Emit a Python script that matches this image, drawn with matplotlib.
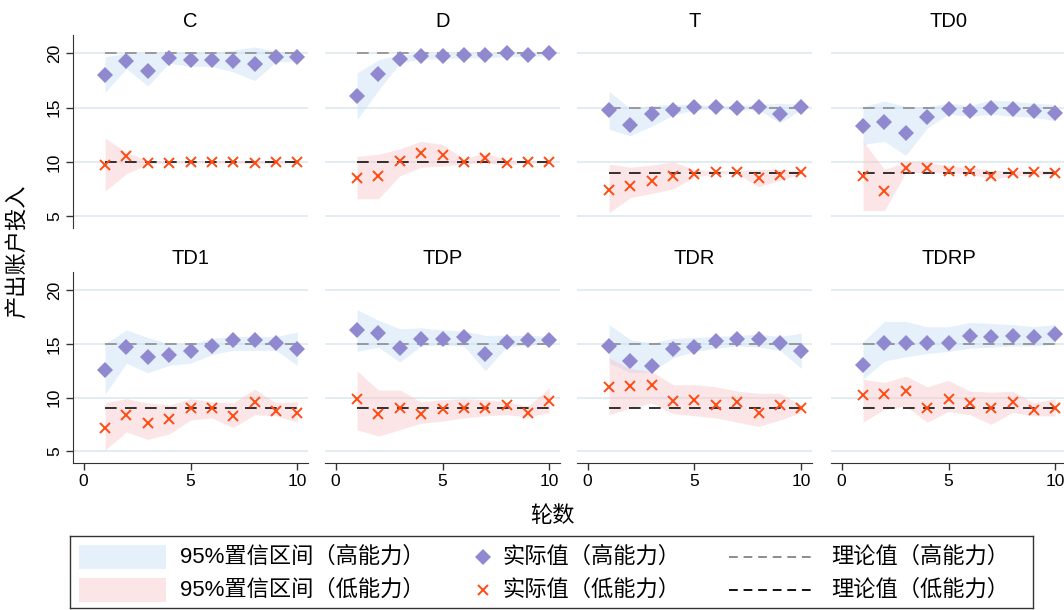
import numpy as np
import matplotlib
matplotlib.use("Agg")
import matplotlib.pyplot as plt
from matplotlib.patches import Rectangle

plt.rcParams['font.family'] = ['Liberation Sans', 'Noto Sans CJK SC']

rounds = np.arange(1, 11)
treatments = ['C', 'D', 'T', 'TD0', 'TD1', 'TDP', 'TDR', 'TDRP']

# theoretical values (high / low ability)
theory_hi = [20, 20, 15, 15, 15, 15, 15, 15]
theory_lo = [10, 10, 9, 9, 9, 9, 9, 9]

# actual means, high ability
hi_mean = {
    'C':    [18.0, 19.3, 18.4, 19.6, 19.4, 19.4, 19.3, 19.0, 19.7, 19.7],
    'D':    [16.1, 18.1, 19.5, 19.8, 19.8, 19.9, 19.9, 20.0, 19.9, 20.0],
    'T':    [14.8, 13.4, 14.4, 14.8, 15.1, 15.1, 15.0, 15.1, 14.4, 15.1],
    'TD0':  [13.3, 13.7, 12.7, 14.1, 14.9, 14.7, 15.0, 14.9, 14.7, 14.5],
    'TD1':  [12.6, 14.7, 13.8, 14.0, 14.3, 14.8, 15.4, 15.4, 15.1, 14.5],
    'TDP':  [16.3, 16.0, 14.6, 15.5, 15.5, 15.6, 14.1, 15.2, 15.4, 15.4],
    'TDR':  [14.8, 13.4, 12.9, 14.5, 14.7, 15.3, 15.5, 15.5, 15.1, 14.3],
    'TDRP': [13.0, 15.1, 15.1, 15.1, 15.1, 15.7, 15.6, 15.7, 15.6, 15.9],
}
hi_upper = {
    'C':    [19.7, 20.0, 20.0, 20.1, 20.1, 20.1, 20.3, 20.6, 20.2, 20.1],
    'D':    [18.2, 19.4, 19.9, 20.0, 20.0, 20.0, 20.0, 20.0, 20.0, 20.0],
    'T':    [16.5, 14.9, 15.2, 15.3, 15.3, 15.2, 15.2, 15.3, 15.4, 15.3],
    'TD0':  [15.1, 15.6, 15.1, 15.1, 15.4, 15.2, 15.7, 15.6, 15.4, 15.3],
    'TD1':  [15.0, 16.3, 15.6, 15.0, 15.0, 15.5, 15.7, 15.7, 15.7, 16.1],
    'TDP':  [18.2, 17.2, 16.4, 16.5, 16.3, 16.2, 15.8, 15.8, 15.8, 15.7],
    'TDR':  [16.8, 15.4, 15.1, 15.5, 15.6, 15.7, 15.8, 15.9, 15.7, 16.0],
    'TDRP': [15.2, 17.1, 17.1, 16.6, 16.6, 17.0, 16.9, 16.8, 16.6, 16.8],
}
hi_lower = {
    'C':    [16.4, 18.6, 17.0, 19.1, 18.8, 18.8, 18.3, 17.5, 19.2, 19.3],
    'D':    [13.9, 16.6, 19.1, 19.5, 19.5, 19.6, 19.6, 19.7, 19.7, 19.8],
    'T':    [13.0, 12.4, 13.3, 14.3, 14.8, 14.9, 14.8, 14.8, 13.6, 14.8],
    'TD0':  [11.6, 11.9, 10.6, 13.1, 14.4, 14.2, 14.4, 14.2, 14.1, 13.8],
    'TD1':  [10.3, 13.2, 12.3, 13.0, 13.2, 14.0, 14.4, 14.4, 14.4, 13.0],
    'TDP':  [14.3, 14.7, 13.3, 14.8, 14.9, 14.8, 12.5, 14.7, 14.9, 15.0],
    'TDR':  [13.2, 12.3, 12.4, 13.7, 14.3, 14.6, 14.8, 14.7, 14.4, 12.7],
    'TDRP': [11.7, 13.4, 13.8, 14.1, 14.3, 14.6, 14.7, 14.8, 14.8, 15.0],
}

# actual means, low ability
lo_mean = {
    'C':    [9.7, 10.5, 9.9, 9.9, 10.0, 10.0, 10.0, 9.9, 10.0, 10.0],
    'D':    [8.5, 8.7, 10.1, 10.8, 10.6, 10.0, 10.4, 9.9, 10.0, 10.0],
    'T':    [7.4, 7.8, 8.2, 8.7, 8.9, 9.1, 9.1, 8.5, 8.8, 9.1],
    'TD0':  [8.7, 7.3, 9.4, 9.4, 9.2, 9.2, 8.7, 9.0, 9.1, 9.0],
    'TD1':  [7.2, 8.4, 7.6, 8.0, 9.0, 9.0, 8.3, 9.6, 8.7, 8.6],
    'TDP':  [9.9, 8.5, 9.0, 8.5, 8.9, 9.0, 9.0, 9.3, 8.6, 9.7],
    'TDR':  [11.0, 11.1, 11.2, 9.7, 9.8, 9.3, 9.6, 8.6, 9.3, 9.0],
    'TDRP': [10.2, 10.3, 10.6, 9.0, 9.9, 9.5, 9.0, 9.6, 8.8, 9.0],
}
lo_upper = {
    'C':    [12.2, 10.9, 10.1, 10.1, 10.1, 10.1, 10.1, 10.1, 10.1, 10.1],
    'D':    [10.5, 10.7, 11.2, 11.9, 11.6, 10.3, 10.8, 10.2, 10.1, 10.1],
    'T':    [9.8, 9.5, 9.7, 10.0, 9.3, 9.2, 9.2, 9.3, 9.3, 9.2],
    'TD0':  [11.9, 9.3, 10.0, 10.0, 9.6, 9.5, 9.2, 9.2, 9.2, 9.2],
    'TD1':  [9.5, 9.9, 9.5, 9.3, 9.9, 9.6, 9.5, 10.8, 9.5, 9.6],
    'TDP':  [12.5, 10.7, 10.7, 9.6, 9.8, 9.9, 9.8, 9.6, 9.2, 10.9],
    'TDR':  [13.7, 12.7, 12.4, 11.2, 11.2, 11.0, 10.6, 10.4, 10.4, 9.3],
    'TDRP': [11.7, 11.4, 12.0, 11.0, 11.6, 10.6, 10.5, 10.6, 9.5, 9.9],
}
lo_lower = {
    'C':    [7.3, 8.9, 9.8, 9.9, 9.9, 9.9, 9.9, 9.8, 9.9, 9.9],
    'D':    [6.6, 6.6, 8.7, 9.5, 9.6, 9.8, 9.9, 9.7, 9.9, 9.9],
    'T':    [5.3, 6.7, 7.1, 7.5, 8.6, 8.9, 8.9, 7.7, 8.3, 8.9],
    'TD0':  [5.5, 5.5, 9.0, 9.0, 9.0, 8.9, 8.4, 8.7, 8.8, 8.8],
    'TD1':  [5.1, 6.8, 6.1, 6.6, 7.9, 8.1, 7.2, 8.4, 8.3, 7.7],
    'TDP':  [7.0, 6.4, 7.0, 7.6, 7.8, 8.1, 8.3, 8.4, 8.2, 8.6],
    'TDR':  [8.4, 9.0, 9.5, 8.5, 8.3, 8.1, 7.7, 7.3, 7.9, 8.6],
    'TDRP': [7.7, 8.9, 9.2, 7.7, 8.7, 8.4, 7.5, 8.6, 8.3, 8.3],
}

c_band_hi = '#c6dff8'
c_band_lo = '#f9c0c4'
c_dia = '#9089d0'
c_x = '#ff4a12'
c_th_hi = '#8c8c8c'
c_th_lo = '#111111'
c_grid = '#e2edf1'

W, H = 1064, 610
fig = plt.figure(figsize=(W / 100, H / 100), dpi=100)

lefts = [73, 325, 577, 831]
rows = [(35, 228), (272, 463)]
pw = 235

for i, name in enumerate(treatments):
    r, c = divmod(i, 4)
    top, bot = rows[r]
    ax = fig.add_axes([lefts[c] / W, 1 - bot / H, pw / W, (bot - top) / H])
    ax.set_xlim(-0.5, 10.5)
    ax.set_ylim(3.9, 21.7)
    ax.set_yticks([5, 10, 15, 20])
    ax.set_xticks([0, 5, 10])
    ax.yaxis.grid(True, color=c_grid, lw=1.4)
    ax.set_axisbelow(True)

    ax.fill_between(rounds, hi_lower[name], hi_upper[name], color=c_band_hi, alpha=0.45, lw=0)
    ax.fill_between(rounds, lo_lower[name], lo_upper[name], color=c_band_lo, alpha=0.4, lw=0)
    ax.plot(rounds, [theory_hi[i]] * len(rounds), color=c_th_hi, lw=1.2, dashes=(7, 5))
    ax.plot(rounds, [theory_lo[i]] * len(rounds), color=c_th_lo, lw=1.2, dashes=(7, 5))
    ax.plot(rounds, hi_mean[name], 'D', color=c_dia, ms=8, mew=0)
    ax.plot(rounds, lo_mean[name], 'x', color=c_x, ms=7, mew=1.4)

    ax.set_title(name, fontsize=14.5, pad=6)
    for s in ax.spines.values():
        s.set_visible(False)
    ax.tick_params(length=5, width=1, color='#333333', labelsize=12.5, pad=3)
    if c == 0:
        ax.spines['left'].set_visible(True)
        ax.spines['left'].set_color('#333333')
        for lab in ax.get_yticklabels():
            lab.set_rotation(90)
            lab.set_va('center')
    else:
        ax.tick_params(left=False, labelleft=False)
    if r == 1:
        ax.spines['bottom'].set_visible(True)
        ax.spines['bottom'].set_color('#333333')
    else:
        ax.tick_params(bottom=False, labelbottom=False)

fig.text(18 / W, 1 - 251 / H, '产出账户投入', rotation=90, ha='center', va='center', fontsize=16)
fig.text(552 / W, 1 - 517 / H, '轮数', ha='center', va='center', fontsize=16)

# legend box
lg = fig.add_axes([70 / W, 1 - 608 / H, 963 / W, 72 / H])
lg.set_xlim(70, 1033)
lg.set_ylim(608, 536)
lg.set_xticks([])
lg.set_yticks([])
for s in lg.spines.values():
    s.set_color('#333333')
    s.set_linewidth(1)
y1, y2 = 557, 590
lg.add_patch(Rectangle((79, y1 - 12), 87, 24, color=c_band_hi, alpha=0.45, lw=0))
lg.add_patch(Rectangle((79, y2 - 12), 87, 24, color=c_band_lo, alpha=0.4, lw=0))
lg.plot([483], [y1], 'D', color=c_dia, ms=8, mew=0)
lg.plot([483], [y2], 'x', color=c_x, ms=7, mew=1.4)
lg.plot([729, 814], [y1, y1], color=c_th_hi, lw=1.4, dashes=(4.5, 3))
lg.plot([729, 814], [y2, y2], color=c_th_lo, lw=1.4, dashes=(4.5, 3))
labels = [(180, y1, '95%置信区间（高能力）'), (180, y2, '95%置信区间（低能力）'),
          (502, y1, '实际值（高能力）'), (502, y2, '实际值（低能力）'),
          (831, y1, '理论值（高能力）'), (831, y2, '理论值（低能力）')]
for x, y, t in labels:
    lg.text(x, y, t, ha='left', va='center', fontsize=16)

fig.savefig('out.png', dpi=100)
